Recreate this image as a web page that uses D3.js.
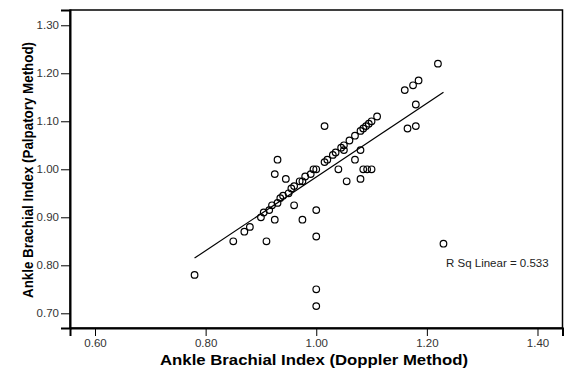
<!DOCTYPE html>
<html>
<head>
<meta charset="utf-8">
<script src="https://cdn.jsdelivr.net/npm/d3@7"></script>
<style>
  body { margin: 0; background: #fff; }
  .axis text { font-family: Arial, "Liberation Sans", sans-serif; font-size: 11.5px; fill: #333; }
  .axis path, .axis line { stroke: #000; }
  .title { font-family: Arial, "Liberation Sans", sans-serif; font-weight: bold; fill: #000; }
</style>
</head>
<body>
<div id="chart"></div>
<script>
// Doppler ABI (x) and palpatory ABI (y), one entry per patient
var doppler = [
  0.85, 0.87, 0.88, 0.90, 0.905, 0.915, 0.92, 0.93, 0.935, 0.94, 0.95, 0.955,
  0.96, 0.97, 0.975, 0.98, 0.99, 0.995, 1.00, 1.015, 1.02, 1.03, 1.035, 1.045,
  1.05, 1.06, 1.07, 1.08, 1.085, 1.09, 1.095, 1.10, 1.11,
  0.78, 0.91, 0.925, 0.96, 0.975, 1.00, 1.00, 1.00, 1.00, 1.23,
  0.93, 0.925, 0.945, 1.015, 1.05, 1.04, 1.055, 1.08, 1.07, 1.08,
  1.085, 1.092, 1.10, 1.16, 1.175, 1.185, 1.22, 1.18, 1.18, 1.165
];
var palpatory = [
  0.85, 0.87, 0.88, 0.90, 0.91, 0.915, 0.925, 0.93, 0.94, 0.945, 0.95, 0.96,
  0.965, 0.975, 0.975, 0.985, 0.99, 1.00, 1.00, 1.015, 1.02, 1.03, 1.035, 1.045,
  1.05, 1.06, 1.07, 1.08, 1.085, 1.09, 1.095, 1.10, 1.11,
  0.78, 0.85, 0.895, 0.925, 0.895, 0.915, 0.86, 0.75, 0.715, 0.845,
  1.02, 0.99, 0.98, 1.09, 1.04, 1.00, 0.975, 0.98, 1.02, 1.04,
  1.00, 1.00, 1.00, 1.165, 1.175, 1.185, 1.22, 1.135, 1.09, 1.085
];

var xTicks = [0.60, 0.80, 1.00, 1.20, 1.40];
var yTicks = [0.70, 0.80, 0.90, 1.00, 1.10, 1.20, 1.30];

// linear fit reported by SPSS
var fit = { slope: 0.768, intercept: 0.216, rsq: 0.533 };

var width = 565, height = 368;
var plot = { l: 70, t: 10, r: 562.5, b: 328 };

var x = d3.scaleLinear().domain([0.5548, 1.4452]).range([plot.l, plot.r]);
var y = d3.scaleLinear().domain([0.6694, 1.3318]).range([plot.b, plot.t]);

var svg = d3.select("#chart")
  .append("svg")
  .attr("width", width)
  .attr("height", height);

// frame round the plot area
svg.append("rect")
  .attr("x", plot.l)
  .attr("y", plot.t)
  .attr("width", plot.r - plot.l)
  .attr("height", plot.b - plot.t)
  .attr("fill", "none")
  .attr("stroke", "#000")
  .attr("stroke-width", 1.5);

svg.append("g")
  .attr("class", "x axis")
  .attr("transform", "translate(0," + plot.b + ")")
  .call(d3.axisBottom(x).tickValues(xTicks).tickFormat(d3.format(".2f")).tickSize(8).tickPadding(3))
  .call((g) => g.select(".domain").attr("stroke-width", 2));

svg.append("g")
  .attr("class", "y axis")
  .attr("transform", "translate(" + plot.l + ",0)")
  .call(d3.axisLeft(y).tickValues(yTicks).tickFormat(d3.format(".2f")).tickSize(9).tickPadding(2))
  .call((g) => g.select(".domain").attr("stroke-width", 2));

// fitted line across the range of the data
var xr = d3.extent(doppler);
svg.append("line")
  .attr("x1", x(xr[0]))
  .attr("y1", y(fit.intercept + fit.slope * xr[0]))
  .attr("x2", x(xr[1]))
  .attr("y2", y(fit.intercept + fit.slope * xr[1]))
  .attr("stroke", "#000")
  .attr("stroke-width", 1.2);

svg.append("g")
  .selectAll("circle")
  .data(doppler)
  .join("circle")
  .attr("cx", (d) => x(d))
  .attr("cy", (d, i) => y(palpatory[i]))
  .attr("r", 3.3)
  .attr("fill", "none")
  .attr("stroke", "#000")
  .attr("stroke-width", 1.2);

svg.append("text")
  .attr("x", 446)
  .attr("y", 267)
  .attr("font-family", "Arial, 'Liberation Sans', sans-serif")
  .attr("font-size", 11.5)
  .attr("fill", "#222")
  .text("R Sq Linear = " + fit.rsq.toFixed(3));

// SPSS titles are a little wider than the browser font, so stretch them
svg.append("text")
  .attr("class", "title")
  .attr("x", 314)
  .attr("y", 365)
  .attr("text-anchor", "middle")
  .attr("font-size", 15)
  .attr("textLength", 308)
  .attr("lengthAdjust", "spacingAndGlyphs")
  .text("Ankle Brachial Index (Doppler Method)");

svg.append("text")
  .attr("class", "title")
  .attr("transform", "translate(33,170) rotate(-90)")
  .attr("text-anchor", "middle")
  .attr("font-size", 14)
  .attr("textLength", 256)
  .attr("lengthAdjust", "spacingAndGlyphs")
  .text("Ankle Brachial Index (Palpatory Method)");
</script>
</body>
</html>
